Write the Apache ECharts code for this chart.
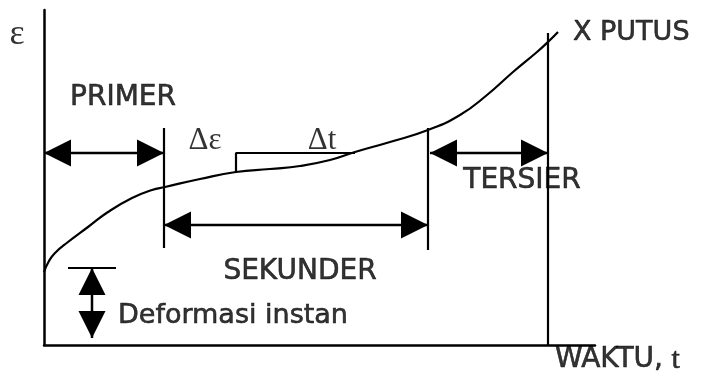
<!DOCTYPE html>
<html>
<head>
<meta charset="utf-8">
<script src="https://cdn.jsdelivr.net/npm/echarts@6/dist/echarts.min.js"></script>
<style>
html,body{margin:0;padding:0;background:#fff;}
#chart{width:723px;height:379px;}
</style>
</head>
<body>
<div id="chart"></div>
<script>
// creep curve (time, strain)
var curveT   = [0, 5, 11, 24, 44, 64, 88, 108, 121, 156, 192, 226, 256, 286, 311, 346, 384, 416, 443, 469, 493, 504, 514];
var curveEps = [73, 84, 92, 103, 118, 133, 147, 155, 158, 166, 173, 176, 179, 185, 193, 203, 215, 230, 250, 273, 293, 303, 313];

// phase boundaries (primer|sekunder, sekunder|tersier, putus)
var boundT      = [120, 384, 504];
var boundTop    = [217, 217, 312];
var boundBottom = [97, 95, 0];

// slope bracket de / dt
var slopeT   = [192, 192, 311];
var slopeEps = [173, 192, 192];

// instant deformation cap
var capT   = [24, 72];
var capEps = [77, 77];

// double arrows: from (t, eps) to (t, eps)
var arrowFromT = [0, 120, 386, 48];
var arrowFromE = [192, 120, 192, 77];
var arrowToT   = [120, 384, 504, 48];
var arrowToE   = [192, 120, 192, 7];

// texts
var labelText = ['PRIMER', 'SEKUNDER', 'TERSIER', '\u0394\u03b5', '\u0394t', '\u03b5'];
var labelT    = [79, 256, 478, 161, 278, -27];
var labelE    = [247, 73, 164, 204, 204, 310];
var labelSize = [28, 28, 28, 31, 31, 36];
var sideText = ['X PUTUS', 'Deformasi instan', 'WAKTU,'];
var sideT    = [529, 74, 511];
var sideE    = [312, 29, -15];

var SANS = 'DejaVu Sans';
var SERIF = 'Liberation Serif';

function pairs(xs, ys) {
  return xs.map(function (x, i) { return [x, ys[i]]; });
}

function lineStyle() { return { color: '#000', width: 2.2 }; }

var series = [];
series.push({
  type: 'line', data: pairs(curveT, curveEps), smooth: 0.5,
  symbol: 'none', lineStyle: lineStyle(), silent: true
});
boundT.forEach(function (t, i) {
  series.push({
    type: 'line', data: [[t, boundBottom[i]], [t, boundTop[i]]],
    symbol: 'none', lineStyle: lineStyle(), silent: true
  });
});
series.push({ type: 'line', data: pairs(slopeT, slopeEps), symbol: 'none', lineStyle: lineStyle(), silent: true });
series.push({ type: 'line', data: pairs(capT, capEps), symbol: 'none', lineStyle: lineStyle(), silent: true });

function renderArrow(params, api) {
  var a = api.coord([api.value(0), api.value(1)]);
  var b = api.coord([api.value(2), api.value(3)]);
  var dx = b[0] - a[0], dy = b[1] - a[1];
  var len = Math.sqrt(dx * dx + dy * dy);
  var ux = dx / len, uy = dy / len, nx = -uy, ny = ux;
  var L = 27, W = 13.5;
  function head(tip, s) {
    var bx = tip[0] - s * ux * L, by = tip[1] - s * uy * L;
    return {
      type: 'polygon',
      shape: { points: [tip, [bx + nx * W, by + ny * W], [bx - nx * W, by - ny * W]] },
      style: { fill: '#000' }
    };
  }
  return {
    type: 'group',
    children: [
      { type: 'line', shape: { x1: a[0], y1: a[1], x2: b[0], y2: b[1] }, style: { stroke: '#000', lineWidth: 2.5 } },
      head(a, -1),
      head(b, 1)
    ]
  };
}

series.push({
  type: 'custom',
  renderItem: renderArrow,
  encode: { x: [0, 2], y: [1, 3] },
  data: arrowFromT.map(function (t, i) { return [t, arrowFromE[i], arrowToT[i], arrowToE[i]]; }),
  silent: true
});

var textBase = { color: '#000', textBorderColor: '#000', textBorderWidth: 0.6 };

series.push({
  type: 'scatter', symbolSize: 0, clip: false, silent: true,
  itemStyle: { color: 'transparent' },
  data: labelText.map(function (s, i) {
    var serif = s.charAt(0) === '\u0394' || s === '\u03b5';
    return {
      value: [labelT[i], labelE[i]],
      label: Object.assign({
        show: true, position: 'inside', formatter: s,
        fontFamily: serif ? SERIF : SANS,
        fontSize: labelSize[i]
      }, serif ? { color: '#000' } : textBase)
    };
  })
});

series.push({
  type: 'scatter', symbolSize: 0, clip: false, silent: true,
  itemStyle: { color: 'transparent' },
  data: sideText.map(function (s, i) {
    return {
      value: [sideT[i], sideE[i]],
      label: Object.assign({
        show: true, position: 'right', distance: 0,
        formatter: s === 'WAKTU,' ? '{a|WAKTU,} {b|t}' : s,
        fontFamily: SANS, fontSize: 27,
        rich: {
          a: { fontFamily: SANS, fontSize: 28, color: '#000', textBorderColor: '#000', textBorderWidth: 0.6 },
          b: { fontFamily: SERIF, fontSize: 30, color: '#000' }
        }
      }, textBase)
    };
  })
});

var chart = echarts.init(document.getElementById('chart'), null, { renderer: 'canvas' });
chart.setOption({
  animation: false,
  backgroundColor: '#fff',
  grid: { left: 44, top: 10, width: 551, height: 335 },
  xAxis: {
    type: 'value', min: 0, max: 551,
    axisLine: { show: true, lineStyle: { color: '#000', width: 2.5 } },
    axisTick: { show: false }, axisLabel: { show: false }, splitLine: { show: false }
  },
  yAxis: {
    type: 'value', min: 0, max: 335,
    axisLine: { show: true, lineStyle: { color: '#000', width: 2.5 } },
    axisTick: { show: false }, axisLabel: { show: false }, splitLine: { show: false }
  },
  series: series
});
</script>
</body>
</html>
